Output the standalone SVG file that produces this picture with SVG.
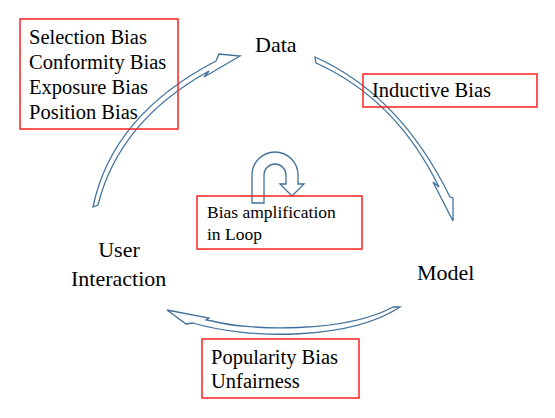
<svg xmlns="http://www.w3.org/2000/svg" width="555" height="418" viewBox="0 0 555 418">
<style>
text{font-family:'Liberation Serif','Times New Roman',Times,serif;fill:#000}
.lg{font-size:22px}
.md{font-size:20.5px}
.sm{font-size:17.5px}
.box{fill:none;stroke:#FF2020;stroke-width:1.5}
.arr{fill:none;stroke:#41719C;stroke-width:1.3;stroke-linejoin:miter}
</style>
<rect width="555" height="418" fill="#fff"/>
<g id="connectors">
<path class="arr" d="M93,207 Q112,115 216,61 L219,54 L240,56 L204,77 L209,71 Q119,121 98,205 Z"/>
<path class="arr" d="M315,57 Q400,95 450,197 L453,198 L453,221 L433,182 L439,187 Q396,99 316,63 Z"/>
<path class="arr" d="M167,310 L186,324 L193,323 C250,340 350,340 400,307 L393,307 C345,333 250,331 212,321 L206,320 L209,318 Z"/>
<path id="loop-arrow" class="arr" style="fill:#fff" d="M252,203 L252,175 A23,23 0 0 1 298,175 L298,184 L304,184 L292,196 L280,184 L286,184 L286,175 A11,11 0 0 0 264,175 L264,203 Z"/>
</g>
<g font-family="Liberation Serif, serif">
<g id="data"><text class="lg" x="255" y="52">Data</text></g>
<g id="model"><text class="lg" x="417" y="280">Model</text></g>
<g id="user-interaction">
<text class="lg" x="119" y="257" text-anchor="middle">User</text>
<text class="lg" x="71" y="286">Interaction</text>
</g>
<g id="data-biases">
<rect class="box" x="20" y="19" width="158" height="110"/>
<text class="md" x="29" y="43.5">Selection Bias</text>
<text class="md" x="29" y="68.5">Conformity Bias</text>
<text class="md" x="29" y="93.5">Exposure Bias</text>
<text class="md" x="29" y="118.5">Position Bias</text>
</g>
<g id="inductive-bias">
<rect class="box" x="363" y="74" width="174" height="33"/>
<text class="md" x="372" y="97">Inductive Bias</text>
</g>
<g id="bias-amplification">
<rect class="box" x="197" y="196" width="165" height="53"/>
<text class="sm" x="207" y="218">Bias amplification</text>
<text class="sm" x="207" y="239.5">in Loop</text>
</g>
<g id="popularity-bias">
<rect class="box" x="202" y="339" width="157" height="59"/>
<text class="md" x="211" y="364">Popularity Bias</text>
<text class="md" x="211" y="387.5">Unfairness</text>
</g>
</g>
</svg>
